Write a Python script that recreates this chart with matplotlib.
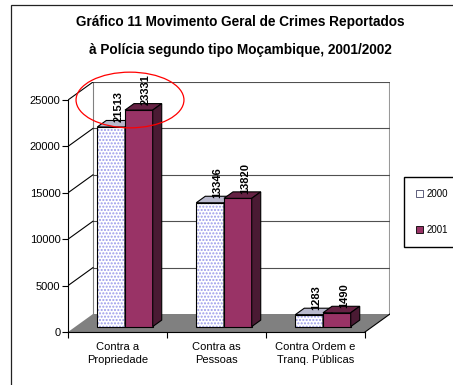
import matplotlib
matplotlib.use('Agg')
import matplotlib.pyplot as plt
from matplotlib.patches import Polygon, Rectangle, Ellipse, Patch

# data
categories = ['Contra a\nPropriedade', 'Contra as\nPessoas', 'Contra Ordem e\nTranq. Públicas']
series = ['2000', '2001']
v2000 = [21513, 13346, 1283]
v2001 = [23331, 13820, 1490]
yticks = [0, 5000, 10000, 15000, 20000, 25000]
title = 'Gráfico 11 Movimento Geral de Crimes Reportados\nà Polícia segundo tipo Moçambique, 2001/2002'

plt.rcParams['font.family'] = ['Liberation Sans', 'DejaVu Sans']

W, H = 453, 385
fig = plt.figure(figsize=(W / 100, H / 100), dpi=100)
px_left, px_right, px_bottom, px_top = 68, 390, 332, 82
ax = fig.add_axes([px_left / W, (H - px_bottom) / H,
                   (px_right - px_left) / W, (px_bottom - px_top) / H])
ax.set_facecolor('none')

ncat = len(categories)
ymax = yticks[-1]
DX = 25 / 99.0                 # depth offset in category units
DY = ymax * 18 / 232.0         # depth offset in value units
ax.set_xlim(0, ncat + DX)
ax.set_ylim(0, ymax + DY)

wall_col = '#808080'
grid_col = '#505050'

# floor
ax.add_patch(Polygon([(0, 0), (ncat, 0), (ncat + DX, DY), (DX, DY)],
                     closed=True, facecolor='#808080', edgecolor='none', zorder=1))
ax.plot([ncat, ncat + DX], [0, DY], color='black', lw=0.8, zorder=2)

# back wall + left wall
ax.plot([DX, DX], [DY, ymax + DY], color=wall_col, lw=0.8, zorder=1)
ax.plot([ncat + DX, ncat + DX], [DY, ymax + DY], color='#999999', lw=1.5, zorder=1)
for t in yticks[1:]:
    ax.plot([DX, ncat + DX], [t + DY, t + DY], color=grid_col, lw=0.8, zorder=1)
    ax.plot([0, DX], [t, t + DY], color='black', lw=0.8, zorder=1)

# 3d bars
d0, d1 = 0.30, 0.66
w = 0.28
offs = [0.22, 0.50]
styles = [
    dict(front='white', hatch_col='#9a9aea', top='#b8b8cc', side='#a8a8c0', z=3),
    dict(front='#993366', hatch_col=None, top='#662244', side='#4a1a33', z=4),
]
for vals, off, st, name in zip([v2000, v2001], offs, styles, series):
    xs = [i + off for i in range(ncat)]
    xf = [x + d0 * DX for x in xs]
    if st['hatch_col']:
        ax.bar(xf, vals, width=w, bottom=d0 * DY, align='edge', color=st['front'],
               edgecolor=st['hatch_col'], hatch='.....', lw=0, zorder=st['z'])
        ax.bar(xf, vals, width=w, bottom=d0 * DY, align='edge', fill=False,
               edgecolor='black', lw=0.8, zorder=st['z'])
    else:
        ax.bar(xf, vals, width=w, bottom=d0 * DY, align='edge', color=st['front'],
               edgecolor='black', lw=0.8, zorder=st['z'])
    for x, v in zip(xs, vals):
        top = [(x + d0 * DX, v + d0 * DY), (x + w + d0 * DX, v + d0 * DY),
               (x + w + d1 * DX, v + d1 * DY), (x + d1 * DX, v + d1 * DY)]
        side = [(x + w + d0 * DX, d0 * DY), (x + w + d1 * DX, d1 * DY),
                (x + w + d1 * DX, v + d1 * DY), (x + w + d0 * DX, v + d0 * DY)]
        ax.add_patch(Polygon(top, closed=True, facecolor=st['top'], edgecolor='black',
                             lw=0.8, zorder=st['z']))
        ax.add_patch(Polygon(side, closed=True, facecolor=st['side'], edgecolor='black',
                             lw=0.8, zorder=st['z']))
        ax.text(x + w / 2 + d1 * DX - 0.02, v + (d0 + d1) / 2 * DY + 150, str(v),
                rotation=90, ha='center', va='bottom', fontsize=8,
                fontweight='bold', zorder=6)

# axes
for s in ['top', 'right']:
    ax.spines[s].set_visible(False)
ax.spines['left'].set_bounds(0, ymax)
ax.spines['bottom'].set_bounds(0, ncat)
ax.spines['left'].set_linewidth(0.8)
ax.spines['bottom'].set_linewidth(0.8)
ax.set_yticks(yticks)
ax.set_yticklabels([str(t) for t in yticks])
ax.tick_params(axis='y', length=4, width=0.8, pad=1.5, labelsize=8)
ax.set_xticks(range(ncat + 1))
ax.set_xticklabels([])
ax.set_xticks([i + 0.5 for i in range(ncat)], minor=True)
ax.set_xticklabels(categories, minor=True, fontsize=8, linespacing=1.45)
ax.tick_params(axis='x', which='major', length=4, width=0.8)
ax.tick_params(axis='x', which='minor', length=0, pad=7)

# red annotation ellipse around first group
ax.add_patch(Ellipse((0.5 + DX / 2, ymax), width=1.09, height=6000, fill=False,
                     edgecolor='red', lw=0.9, clip_on=False, zorder=7))

# title
fig.text(240 / W, 1 - 36 / H, title, ha='center', va='center', fontsize=9.8,
         fontweight='bold', linespacing=2.25)

# legend
handles = [Patch(facecolor='white', edgecolor='#444466', lw=0.6),
           Patch(facecolor='#993366', edgecolor='black', lw=0.6)]
fig.legend(handles, series, loc='upper left', bbox_to_anchor=(404 / W, 1 - 177 / H),
           fontsize=7, frameon=True, fancybox=False, edgecolor='black',
           framealpha=1, handlelength=0.8, handleheight=0.8, handletextpad=0.3,
           labelspacing=2.7, borderpad=1.2, borderaxespad=0)

# outer frame
fig.add_artist(Rectangle((11 / W, -0.1), 1.2, 1 - 5 / H + 0.1, transform=fig.transFigure,
                         fill=False, edgecolor='#222222', lw=0.9))

fig.savefig('out.png', dpi=100)
